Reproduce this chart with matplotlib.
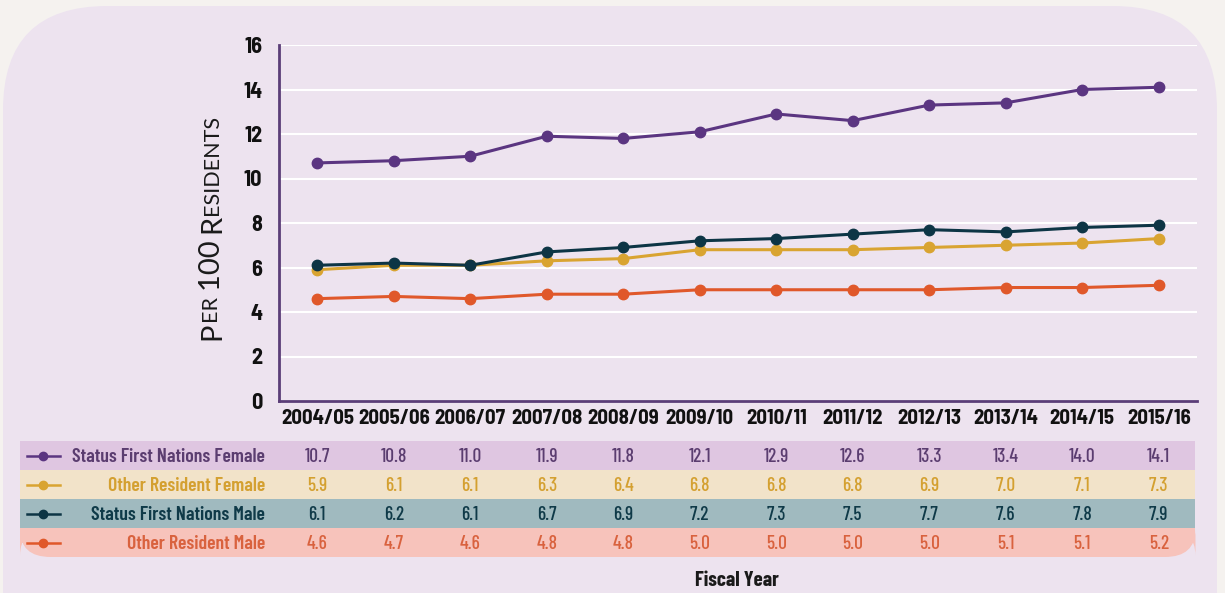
import matplotlib.pyplot as plt
from matplotlib.patches import FancyBboxPatch, Rectangle

years = ['2004/05', '2005/06', '2006/07', '2007/08', '2008/09', '2009/10',
         '2010/11', '2011/12', '2012/13', '2013/14', '2014/15', '2015/16']
fn_female = [10.7, 10.8, 11.0, 11.9, 11.8, 12.1, 12.9, 12.6, 13.3, 13.4, 14.0, 14.1]
other_female = [5.9, 6.1, 6.1, 6.3, 6.4, 6.8, 6.8, 6.8, 6.9, 7.0, 7.1, 7.3]
fn_male = [6.1, 6.2, 6.1, 6.7, 6.9, 7.2, 7.3, 7.5, 7.7, 7.6, 7.8, 7.9]
other_male = [4.6, 4.7, 4.6, 4.8, 4.8, 5.0, 5.0, 5.0, 5.0, 5.1, 5.1, 5.2]

series = [
    ('Status First Nations Female', fn_female, '#5b3581', '#5b3d70', '#dfc6e1'),
    ('Other Resident Female', other_female, '#d9a431', '#d4a030', '#f2e3c9'),
    ('Status First Nations Male', fn_male, '#0d3545', '#0f3a48', '#a0babf'),
    ('Other Resident Male', other_male, '#e0582a', '#d9623e', '#f7c3bb'),
]

plt.rcParams['font.family'] = ['Barlow Semi Condensed', 'DejaVu Sans']
narrow = ['Barlow Condensed', 'DejaVu Sans']

W, H = 1225, 593
fig = plt.figure(figsize=(W / 100, H / 100), dpi=100)
fig.patch.set_facecolor('#f5f2ef')
fig.patches.append(FancyBboxPatch((3 / W, -0.2), (1217 - 3) / W, 1.2 - 6 / H,
                                  boxstyle='round,pad=0,rounding_size=0.085',
                                  transform=fig.transFigure, facecolor='#ede3ef',
                                  edgecolor='none', zorder=-10,
                                  mutation_aspect=W / H))

x = list(range(len(years)))
ax = fig.add_axes([279 / W, 1 - 401 / H, (1197 - 279) / W, (401 - 45) / H])
ax.set_facecolor('none')
for name, vals, lc, tc, bg in series:
    ax.plot(x, vals, color=lc, lw=2.2, marker='o', ms=7.5, zorder=3)
ax.set_xlim(-0.5, 11.5)
ax.set_ylim(0, 16)
ax.set_yticks(range(0, 17, 2))
ax.yaxis.grid(True, color='white', lw=1.5)
ax.set_axisbelow(True)
ax.set_xticks(x)
ax.set_xticklabels(years, fontsize=15, fontweight='bold', color='#111111')
ax.tick_params(axis='y', labelsize=16, length=0, pad=12, labelcolor='#111111')
ax.tick_params(axis='x', length=0, pad=6)
for lab in ax.get_yticklabels():
    lab.set_fontweight('bold')
for s in ['top', 'right']:
    ax.spines[s].set_visible(False)
for s in ['left', 'bottom']:
    ax.spines[s].set_color('#5b3d78')
    ax.spines[s].set_linewidth(2)

# small-caps style y label
fig.canvas.draw()
renderer = fig.canvas.get_renderer()
pieces = [('P', 21), ('ER ', 15.5), ('100 ', 21), ('R', 21), ('ESIDENTS', 15.5)]
ypos = 1 - 340 / H
for txt, sz in pieces:
    t = fig.text(212 / W, ypos, txt, rotation=90, fontsize=sz, color='#1a1a1a',
                 family=['Lato', 'DejaVu Sans'], va='bottom', ha='center')
    bb = t.get_window_extent(renderer)
    ypos += bb.height / H

# table
tax = fig.add_axes([20 / W, 1 - 557 / H, (1197 - 20) / W, (557 - 441) / H])
tax.set_xlim(-0.5 - (279 - 20) / 76.5, 11.5)
tax.set_ylim(0, 4)
tax.axis('off')
x0 = tax.get_xlim()[0]
x1 = 11.48
for i, (name, vals, lc, tc, bg) in enumerate(series):
    yb = 3 - i
    if i == 3:
        tax.add_patch(FancyBboxPatch((x0, yb), x1 - x0, 1,
                                     boxstyle='round,pad=0,rounding_size=0.4',
                                     mutation_aspect=2.4,
                                     facecolor=bg, edgecolor='none'))
        tax.add_patch(Rectangle((x0, yb + 0.5), x1 - x0, 0.5, facecolor=bg,
                                edgecolor='none'))
    else:
        tax.add_patch(Rectangle((x0, yb), x1 - x0, 1, facecolor=bg, edgecolor='none'))
    tax.plot([x0 + 0.09, x0 + 0.52], [yb + 0.5, yb + 0.5], color=lc, lw=1.8)
    tax.plot([x0 + 0.3], [yb + 0.5], marker='o', ms=6, color=lc)
    tax.text(-0.68, yb + 0.45, name, ha='right', va='center', fontsize=14.2,
             fontweight='semibold', color=tc, family=narrow)
    for j, v in enumerate(vals):
        tax.text(j, yb + 0.45, f'{v:.1f}', ha='center', va='center',
                 fontsize=14, fontweight='medium', color=tc, family=narrow)

fig.text(737 / W, 1 - 581 / H, 'Fiscal Year', ha='center', va='center',
         fontsize=15, fontweight='bold', color='#1a1a1a', family=narrow)

fig.savefig('out.png', dpi=100, facecolor=fig.get_facecolor())
